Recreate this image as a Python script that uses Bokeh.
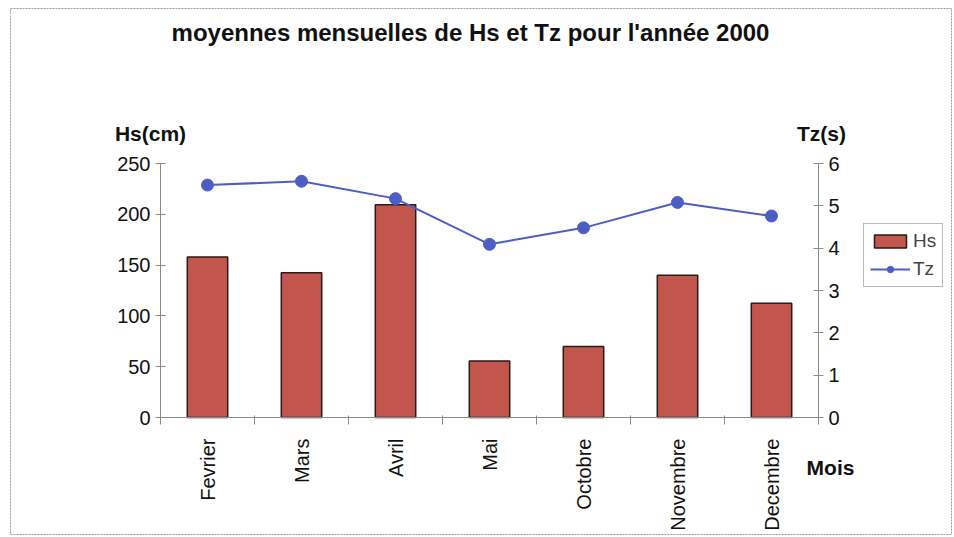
import math
from bokeh.plotting import figure
from bokeh.models import Range1d, LinearAxis, FixedTicker, Label, Legend, LegendItem
from bokeh.embed import file_html
from bokeh.resources import INLINE

months = ["Fevrier", "Mars", "Avril", "Mai", "Octobre", "Novembre", "Decembre"]
hs_cm = [158, 142.5, 209.5, 55.5, 70, 140, 112.5]
tz_s = [5.49, 5.58, 5.17, 4.09, 4.48, 5.08, 4.76]
hs_ticks = [0, 50, 100, 150, 200, 250]
tz_ticks = [0, 1, 2, 3, 4, 5, 6]
title_text = "moyennes mensuelles de Hs et Tz pour l'année 2000"

FONT = "Liberation Sans"
BAR = "#c2564c"
LINE = "#4c5ec4"
AX = "#8a8a8a"

idx = list(range(len(months)))
n = len(months)

# layout plan (pixels): canvas 952x535, frame starts at (10, 8)
W, H = 952, 535
FL, FT = 10, 8
AX_L, AX_R = 160, 818        # left / right axis x (px)
Y0, Y250 = 417, 163          # px of hs=0 and hs=250
pxu = (AX_R - AX_L) / n
pyu = (Y0 - Y250) / 250.0
x0 = -0.5 - (AX_L - FL) / pxu
x1 = -0.5 + (W - AX_L) / pxu
y1 = (Y0 - FT) / pyu
y0 = -(H - Y0) / pyu
k = 6 / 250.0

p = figure(width=W, height=H, output_backend="svg", toolbar_location=None, title=None,
           x_range=Range1d(x0, x1), y_range=Range1d(y0, y1),
           min_border_left=FL, min_border_top=FT, min_border_right=0, min_border_bottom=0)
p.outline_line_color = "#9a9a9a"
p.outline_line_dash = "2 1"
p.outline_line_width = 1
p.xgrid.visible = False
p.ygrid.visible = False
p.background_fill_color = "white"
p.border_fill_color = "white"

p.extra_y_ranges = {"tz": Range1d(y0 * k, y1 * k)}

bars = p.vbar(x=idx, top=hs_cm, width=0.43, fill_color=BAR, line_color="#2a1a18", line_width=1.5)
ln = p.line(x=idx, y=tz_s, y_range_name="tz", line_color=LINE, line_width=2)
pts = p.scatter(x=idx, y=tz_s, y_range_name="tz", size=12, fill_color=LINE, line_color=LINE)

# x axis
xa = p.xaxis[0]
xa.fixed_location = 0
xa.bounds = (-0.5, n - 0.5)
xa.ticker = FixedTicker(ticks=idx, minor_ticks=[i - 0.5 for i in range(n + 1)])
xa.major_label_overrides = {i: m for i, m in zip(idx, months)}
xa.major_label_orientation = math.pi / 2
xa.major_tick_in = 0
xa.major_tick_out = 0
xa.minor_tick_in = 2
xa.minor_tick_out = 7
xa.minor_tick_line_color = AX
xa.axis_line_color = AX
xa.major_label_standoff = 14
xa.major_label_text_font = FONT
xa.major_label_text_font_size = "20px"
xa.major_label_text_color = "#111"

# left axis
ya = p.yaxis[0]
ya.fixed_location = -0.5
ya.bounds = (0, 250)
ya.ticker = FixedTicker(ticks=hs_ticks)
ya.axis_line_color = AX
ya.major_tick_line_color = AX
ya.major_tick_in = 5
ya.major_tick_out = 5
ya.minor_tick_line_color = None
ya.major_label_standoff = 5
ya.major_label_text_font = FONT
ya.major_label_text_font_size = "20px"
ya.major_label_text_color = "#111"

# right axis
ra = LinearAxis(y_range_name="tz", ticker=FixedTicker(ticks=tz_ticks), fixed_location=n - 0.5,
                bounds=(0, 6))
ra.axis_line_color = AX
ra.major_tick_line_color = AX
ra.major_tick_in = 5
ra.major_tick_out = 5
ra.minor_tick_line_color = None
ra.major_label_standoff = 5
ra.major_label_text_font = FONT
ra.major_label_text_font_size = "20px"
ra.major_label_text_color = "#111"
p.add_layout(ra, "right")

def lab(px, py, t, size, bold=True):
    p.add_layout(Label(x=-0.5 + (px - AX_L) / pxu, y=(Y0 - py) / pyu, text=t, text_font=FONT,
                       text_font_size=size, text_font_style="bold" if bold else "normal",
                       text_align="center", text_baseline="middle", text_color="#111"))

lab(470, 32, title_text, "24px")
lab(150, 133, "Hs(cm)", "21px")
lab(821, 133, "Tz(s)", "21px")
lab(830, 467, "Mois", "21px")

legend = Legend(items=[LegendItem(label="Hs", renderers=[bars]),
                       LegendItem(label="Tz", renderers=[ln, pts])],
                location=(863 - FL, H - 287))
legend.label_text_font = FONT
legend.label_text_font_size = "19px"
legend.glyph_width = 40
legend.glyph_height = 16
legend.border_line_color = "#777"
legend.padding = 6
legend.spacing = 6
legend.margin = 0
legend.label_standoff = 3
p.add_layout(legend, "center")

open("out.html", "w").write(file_html(p, INLINE))
